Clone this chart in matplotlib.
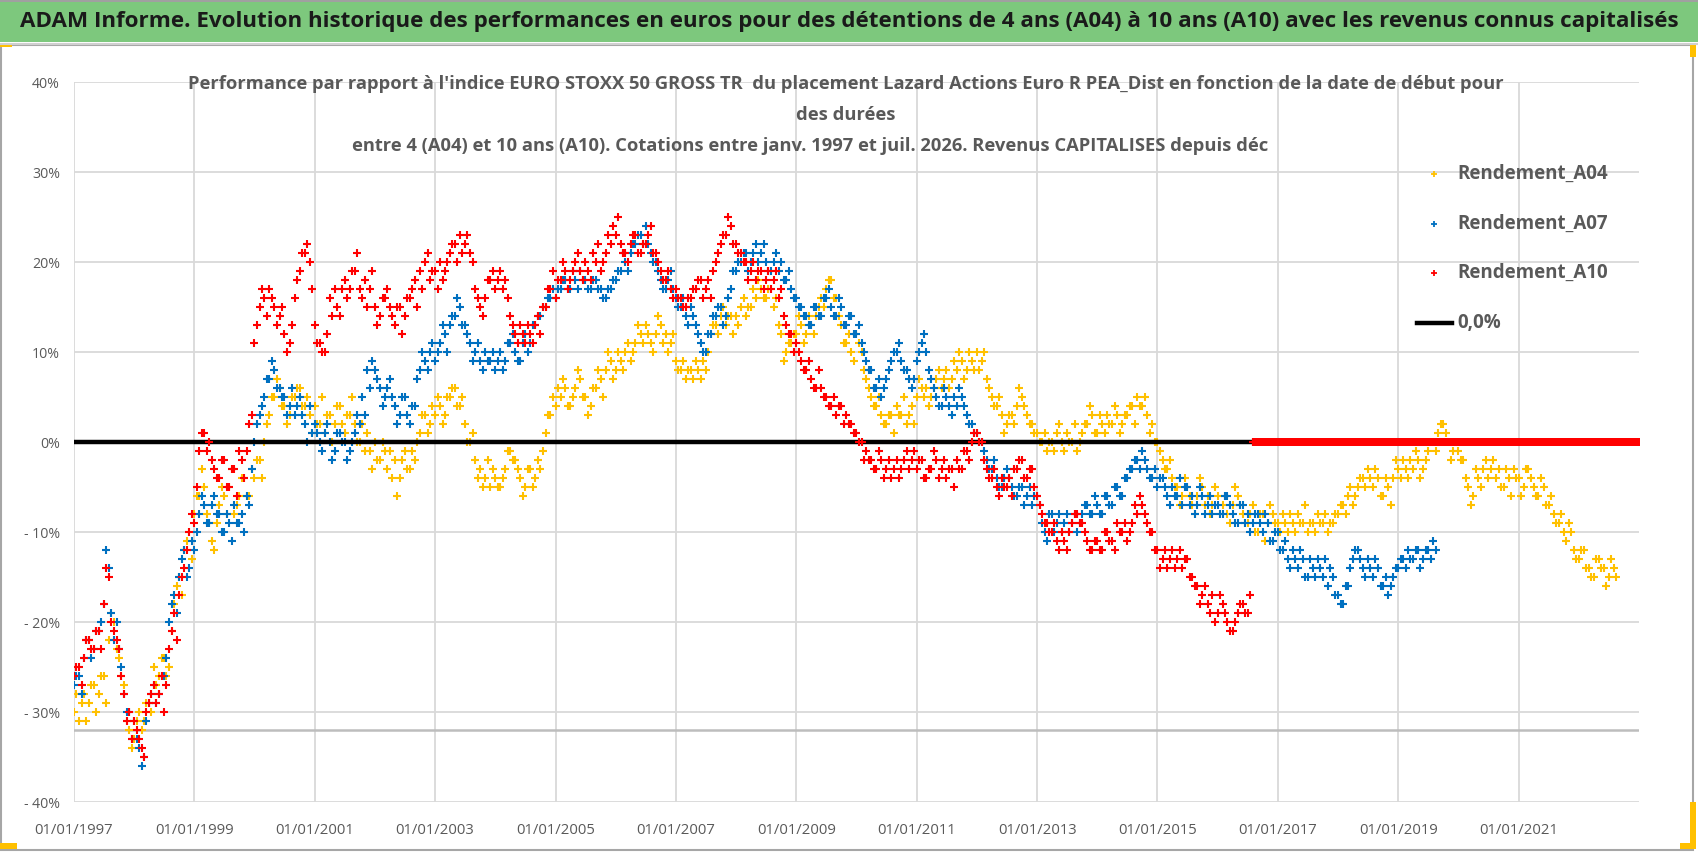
import matplotlib
matplotlib.use('Agg')
import matplotlib.pyplot as plt
import numpy as np
import pandas as pd
from matplotlib.lines import Line2D
from matplotlib.patches import Rectangle

# ---------------- data (percent) ----------------
# values at the start of each month
a04 = [
    -30, -31, -28, -29, -27, -28, -26, -22, -20, -24, -27, -32,   # 1997
    -33, -30, -31, -29, -25, -26, -24, -25, -18, -15, -12, -10,   # 1998
    -8, -6, -5, -9, -12, -7, -6, -5, -8, -6, -4, -6,              # 1999
    -4, -2, 0, 3, 5, 6, 4, 3, 5, 6, 4, 3,                         # 2000
    4, 2, 1, 3, 2, 4, 1, 3, 2, 0, -1, -1,                         # 2001
    0, -2, -1, -1, -2, -4, -1, -3, -2, 1, 3, 2,                   # 2002
    3, 4, 3, 5, 6, 4, 2, 0, -2, -3, -4, -5,                       # 2003
    -4, -5, -3, -1, -2, -4, -5, -3, -4, -3, 1, 3,                 # 2004
    4, 5, 6, 4, 6, 7, 5, 4, 6, 7, 8, 9,                           # 2005
    8, 9, 10, 9, 11, 12, 13, 11, 12, 13, 12, 11,                  # 2006
    9, 8, 7, 8, 9, 7, 8, 12, 13, 14, 13, 14,                      # 2007
    14, 15, 14, 15, 16, 17, 16, 17, 16, 12, 10, 11,               # 2008
    12, 13, 12, 13, 14, 16, 17, 18, 16, 13, 11, 10,               # 2009
    12, 10, 7, 5, 4, 3, 2, 3, 4, 3, 2, 4,                         # 2010
    5, 6, 6, 5, 7, 6, 8, 7, 8, 9, 8, 9,                           # 2011
    10, 9, 7, 5, 4, 3, 2, 3, 4, 5, 3, 2,                          # 2012
    1, 0, -1, 0, 1, 0, 1, 0, -1, 1, 2, 3,                         # 2013
    1, 2, 3, 2, 3, 2, 3, 4, 5, 4, 3, 2,                           # 2014
    0, -2, -3, -4, -5, -6, -5, -7, -6, -5, -6, -7,                # 2015
    -6, -7, -8, -7, -6, -8, -9, -7, -10, -8, -9, -8,              # 2016
    -9, -8, -10, -9, -8, -9, -10, -9, -8, -9, -10, -9,            # 2017
    -8, -7, -6, -7, -5, -4, -3, -5, -4, -6, -5, -4,               # 2018
    -3, -2, -4, -3, -2, -3, -1, 0, 1, 2, 0, -1,                   # 2019
    -1, -2, -5, -6, -4, -3, -4, -2, -3, -5, -4, -3,               # 2020
    -4, -5, -3, -5, -6, -5, -7, -8, -9, -10, -9, -12,             # 2021
    -13, -12, -14, -15, -13, -14, -15, -14,                       # 2022
]
# values in the middle of each month
a04_mid = [
    -28, -29, -31, -27, -30, -26, -29, -19, -23, -26, -31, -34,   # 1997
    -31, -32, -29, -30, -27, -24, -26, -21, -16, -17, -11, -13,   # 1998
    -6, -3, -8, -11, -9, -5, -8, -3, -7, -4, -6, -3,              # 1999
    -2, -4, 2, 5, 7, 4, 2, 5, 6, 4, 5, 1,                         # 2000
    2, 5, 3, 0, 4, 2, 3, 5, 0, 2, 1, -3,                          # 2001
    -2, 0, -3, -4, -6, -2, -3, -1, 0, 3, 1, 4,                    # 2002
    5, 2, 5, 6, 4, 5, 0, 1, -4, -5, -2, -3,                       # 2003
    -5, -4, -1, -2, -3, -6, -3, -5, -2, -1, 3, 5,                 # 2004
    6, 7, 4, 5, 8, 5, 3, 6, 8, 5, 10, 7,                          # 2005
    10, 8, 11, 10, 13, 11, 12, 10, 14, 11, 10, 12,                # 2006
    8, 9, 8, 7, 8, 9, 10, 13, 12, 15, 14, 12,                     # 2007
    13, 16, 15, 17, 18, 16, 17, 15, 13, 9, 11, 12,                # 2008
    14, 11, 14, 12, 15, 15, 18, 16, 14, 11, 12, 9,                # 2009
    11, 8, 6, 4, 5, 2, 3, 1, 3, 5, 3, 2,                          # 2010
    7, 5, 4, 6, 8, 7, 6, 9, 10, 7, 10, 8,                         # 2011
    8, 10, 6, 4, 5, 1, 3, 2, 6, 4, 2, 1,                          # 2012
    0, 1, 0, -1, 2, -1, 0, 2, 0, 2, 4, 1,                         # 2013
    3, 1, 2, 4, 1, 3, 4, 2, 4, 5, 1, 0,                           # 2014
    -1, -3, -2, -5, -7, -4, -6, -8, -4, -7, -8, -5,               # 2015
    -8, -6, -9, -5, -7, -9, -8, -10, -8, -11, -7, -9,             # 2016
    -10, -9, -8, -10, -9, -7, -9, -10, -9, -8, -9, -8,            # 2017
    -7, -8, -5, -6, -4, -5, -4, -3, -6, -4, -7, -2,               # 2018
    -4, -3, -2, -1, -4, -2, 0, -1, 2, 1, -2, 0,                   # 2019
    -2, -4, -7, -3, -5, -2, -3, -4, -5, -3, -6, -4,               # 2020
    -6, -3, -4, -6, -4, -7, -6, -9, -8, -11, -10, -13,            # 2021
    -12, -14, -15, -13, -14, -16, -13, -15,                       # 2022
]
a07 = [
    -27, -26, -24, -22, -23, -21, -18, -14, -22, -23, -28, -30,   # 1997
    -31, -34, -35, -29, -27, -28, -26, -20, -17, -15, -12, -14,   # 1998
    -12, -8, -7, -9, -6, -8, -10, -9, -7, -9, -10, -7,            # 1999
    0, 3, 5, 7, 8, 6, 5, 4, 3, 5, 2, 4,                           # 2000
    2, 0, 1, 0, -1, 1, 0, -1, 1, 2, 3, 6,                         # 2001
    8, 6, 5, 7, 4, 3, 5, 2, 4, 8, 9, 10,                          # 2002
    9, 11, 12, 13, 14, 15, 13, 11, 10, 9, 10, 9,                  # 2003
    8, 10, 9, 11, 10, 9, 12, 11, 13, 14, 15, 16,                  # 2004
    16, 17, 18, 17, 18, 19, 18, 17, 18, 17, 16, 17,               # 2005
    18, 19, 20, 21, 22, 23, 24, 21, 20, 18, 17, 19,               # 2006
    16, 15, 14, 15, 13, 11, 10, 12, 14, 15, 14, 17,               # 2007
    19, 20, 21, 20, 22, 21, 20, 19, 21, 20, 18, 17,               # 2008
    16, 15, 14, 13, 15, 14, 16, 15, 14, 15, 13, 14,               # 2009
    12, 11, 9, 8, 6, 5, 7, 9, 10, 9, 8, 6,                        # 2010
    9, 11, 10, 7, 5, 4, 5, 3, 4, 5, 3, 2,                         # 2011
    1, 0, -2, -3, -4, -5, -3, -5, -6, -5, -6, -7,                 # 2012
    -6, -9, -11, -8, -9, -10, -8, -9, -10, -8, -7, -8,            # 2013
    -7, -8, -6, -7, -5, -6, -4, -3, -2, -1, -3, -4,               # 2014
    -5, -4, -6, -5, -6, -7, -5, -6, -7, -6, -7, -8,               # 2015
    -7, -8, -6, -8, -9, -7, -8, -9, -8, -10, -9, -11,             # 2016
    -10, -12, -13, -12, -14, -13, -15, -14, -13, -15, -16, -15,   # 2017
    -17, -18, -16, -13, -12, -14, -13, -15, -14, -16, -17, -15,   # 2018
    -14, -13, -12, -13, -12, -13, -12, -11,                       # 2019
]
a07_mid = [
    -26, -28, -22, -24, -21, -20, -12, -19, -20, -25, -30, -33,   # 1997
    -33, -36, -31, -28, -29, -26, -24, -18, -19, -13, -15, -11,   # 1998
    -10, -6, -9, -7, -8, -10, -8, -11, -9, -8, -6, -3,            # 1999
    2, 4, 7, 9, 6, 5, 3, 6, 4, 3, 0, 1,                           # 2000
    1, -1, 2, -2, 1, 0, -2, 0, 3, 5, 8, 9,                        # 2001
    7, 4, 6, 5, 2, 5, 3, 4, 7, 10, 8, 11,                         # 2002
    10, 13, 10, 14, 16, 13, 12, 9, 11, 8, 9, 10,                  # 2003
    9, 8, 11, 12, 9, 11, 10, 13, 14, 15, 16, 17,                  # 2004
    17, 18, 17, 19, 17, 18, 17, 18, 17, 16, 17, 18,               # 2005
    19, 21, 19, 22, 23, 22, 22, 20, 19, 17, 18, 17,               # 2006
    15, 16, 13, 14, 12, 10, 12, 14, 15, 13, 16, 19,               # 2007
    20, 21, 19, 21, 20, 22, 19, 20, 19, 18, 19, 16,               # 2008
    15, 14, 13, 15, 14, 16, 17, 14, 16, 13, 14, 12,               # 2009
    13, 10, 8, 6, 7, 6, 8, 10, 11, 8, 7, 7,                       # 2010
    10, 12, 8, 6, 4, 6, 4, 5, 6, 4, 2, 1,                         # 2011
    0, -1, -3, -2, -5, -4, -4, -6, -5, -7, -5, -6,                # 2012
    -7, -10, -8, -10, -8, -9, -10, -8, -9, -7, -8, -6,            # 2013
    -8, -6, -7, -5, -6, -4, -3, -2, -3, -2, -4, -3,               # 2014
    -4, -5, -7, -6, -4, -5, -7, -8, -5, -8, -6, -7,               # 2015
    -8, -6, -7, -9, -7, -9, -10, -8, -9, -8, -11, -10,            # 2016
    -12, -11, -14, -13, -12, -15, -13, -15, -14, -13, -14, -17,   # 2017
    -18, -16, -14, -12, -13, -15, -14, -13, -16, -15, -16, -14,   # 2018
    -13, -14, -13, -12, -14, -12, -13, -12,                       # 2019
]
a10 = [
    -26, -25, -24, -22, -23, -21, -18, -15, -21, -23, -28, -30,   # 1997
    -31, -33, -35, -29, -27, -28, -30, -23, -19, -17, -14, -10,   # 1998
    -9, -1, 1, 0, -3, -4, -2, -5, -3, -1, -4, 2,                  # 1999
    11, 15, 16, 17, 15, 14, 12, 11, 16, 19, 21, 20,               # 2000
    13, 11, 10, 16, 17, 14, 18, 17, 19, 17, 18, 17,               # 2001
    15, 14, 16, 15, 13, 15, 14, 16, 18, 19, 20, 18,               # 2002
    19, 20, 19, 21, 22, 23, 22, 21, 17, 15, 16, 18,               # 2003
    17, 19, 18, 14, 12, 13, 11, 12, 13, 12, 15, 17,               # 2004
    16, 18, 19, 18, 20, 19, 20, 18, 20, 19, 21, 22,               # 2005
    23, 22, 21, 22, 23, 21, 22, 24, 21, 19, 18, 17,               # 2006
    17, 16, 15, 16, 17, 18, 17, 16, 20, 22, 23, 24,               # 2007
    22, 21, 20, 19, 18, 19, 18, 17, 19, 17, 13, 12,               # 2008
    11, 9, 8, 7, 6, 6, 5, 4, 3, 4, 3, 2,                          # 2009
    1, 0, -1, -2, -3, -2, -3, -4, -2, -3, -1, -2,                 # 2010
    -3, -2, -4, -3, -2, -3, -4, -3, -2, -3, -1, 0,                # 2011
    1, 0, -3, -4, -5, -4, -5, -6, -3, -2, -4, -3,                 # 2012
    -6, -8, -9, -10, -11, -10, -12, -9, -8, -9, -11, -12,         # 2013
    -11, -12, -10, -11, -9, -10, -11, -9, -8, -7, -9, -10,        # 2014
    -12, -13, -14, -12, -13, -14, -13, -15, -16, -17, -18, -17,   # 2015
    -19, -18, -20, -21, -19, -18, -19,                            # 2016
]
a10_mid = [
    -25, -27, -22, -23, -21, -23, -14, -20, -22, -26, -31, -33,   # 1997
    -32, -34, -30, -28, -29, -26, -27, -21, -22, -15, -12, -8,    # 1998
    -5, 1, -1, -2, -4, -2, -5, -3, -6, -2, -1, 3,                 # 1999
    13, 17, 14, 16, 13, 15, 10, 13, 18, 21, 22, 17,               # 2000
    11, 10, 12, 14, 15, 17, 16, 19, 21, 16, 15, 19,               # 2001
    13, 16, 17, 14, 15, 12, 16, 17, 15, 17, 21, 19,               # 2002
    17, 18, 20, 22, 20, 21, 23, 20, 16, 14, 18, 19,               # 2003
    18, 17, 16, 13, 11, 12, 13, 11, 14, 15, 17, 19,               # 2004
    18, 20, 17, 19, 21, 18, 19, 21, 22, 20, 23, 24,               # 2005
    25, 21, 20, 23, 21, 22, 23, 21, 20, 18, 19, 16,               # 2006
    16, 15, 16, 17, 18, 16, 18, 19, 21, 23, 25, 22,               # 2007
    21, 20, 18, 20, 19, 17, 19, 18, 16, 14, 12, 10,               # 2008
    10, 8, 9, 6, 8, 5, 4, 5, 4, 2, 2, 1,                          # 2009
    0, -2, -2, -3, -1, -4, -2, -3, -4, -2, -3, -1,                # 2010
    -2, -4, -3, -1, -4, -2, -3, -5, -3, -1, -2, 1,                # 2011
    0, -2, -4, -3, -6, -5, -4, -3, -2, -4, -3, -5,                # 2012
    -7, -9, -10, -9, -12, -11, -10, -8, -9, -10, -12, -11,        # 2013
    -12, -10, -11, -12, -10, -9, -10, -7, -6, -8, -10, -12,       # 2014
    -14, -12, -13, -14, -12, -13, -15, -16, -18, -16, -19, -20,   # 2015
    -17, -19, -21, -20, -18, -19, -17,                            # 2016
]
a10_zero_start, a10_zero_end = '2016-08-01', '2023-01-05'
zero_line_dates = ['1997-01-01', '2023-01-01']
zero_line_vals = [0, 0]
low_line_val = -32

series_names = ['Rendement_A04', 'Rendement_A07', 'Rendement_A10', '0,0%']
ytick_vals = [40, 30, 20, 10, 0, -10, -20, -30, -40]
ytick_labels = ['40%', '30%', '20%', '10%', '0%', '- 10%', '- 20%', '- 30%', '- 40%']
xtick_years = list(range(1997, 2022, 2))
xtick_labels = ['01/01/%d' % y for y in xtick_years]

title = ("ADAM Informe. Evolution historique des performances en euros pour des "
         "détentions de 4 ans (A04) à 10 ans (A10) avec les revenus connus capitalisés")
sub1 = ("Performance par rapport à l'indice EURO STOXX 50 GROSS TR  du placement Lazard "
        "Actions Euro R PEA_Dist en fonction de la date de début pour")
sub2 = "des durées"
sub3 = ("entre 4 (A04) et 10 ans (A10). Cotations entre janv. 1997 et juil. 2026. "
        "Revenus CAPITALISES depuis déc")

# ---------------- styling ----------------
W, H = 1698, 856
plt.rcParams['font.family'] = ['Liberation Sans Narrow', 'Open Sans', 'DejaVu Sans']
C04, C07, C10 = '#FFC000', '#0070C0', '#FF0000'
GREY_TXT = '#595959'

fig = plt.figure(figsize=(W / 100, H / 100), dpi=100)
fig.patch.set_facecolor('white')
renderer = fig.canvas.get_renderer()


def fx(px):
    return px / W


def fy(py):
    return 1 - py / H


def fit(text, width, weight='normal', size0=12):
    t = fig.text(0, 0, text, fontsize=size0, weight=weight)
    w = t.get_window_extent(renderer).width
    t.remove()
    return size0 * width / w


# title bar and frame
fig.add_artist(Rectangle((0, fy(42)), 1, 40 / H, transform=fig.transFigure,
                         facecolor='#7DC87D', edgecolor='none', zorder=0))
fig.add_artist(Rectangle((0, fy(2)), 1, 2 / H, transform=fig.transFigure,
                         facecolor='#A0A0A0', edgecolor='none', zorder=0))
fig.add_artist(Line2D([0, 1], [fy(44), fy(44)], transform=fig.transFigure,
                      color='#D0D0D0', lw=1.5))
fig.add_artist(Rectangle((fx(1), fy(850)), fx(1692), 805 / H, transform=fig.transFigure,
                         fill=False, edgecolor='#A6A6A6', lw=1.5, zorder=0))
# selection handle accents
for (x0, y0, w, h) in [(0, 843, 17, 6), (1690, 802, 6, 47), (1680, 843, 16, 6),
                       (0, 43, 12, 4), (1690, 43, 6, 14)]:
    fig.add_artist(Rectangle((fx(x0), fy(y0 + h)), w / W, h / H, transform=fig.transFigure,
                             facecolor='#FFC000', edgecolor='none', zorder=1))

fig.text(fx(849), fy(22), title, ha='center', va='center', color='#1a1a1a',
         weight='bold', fontsize=fit(title, 1655, 'bold'))
ssz = fit(sub1, 1313, 'bold')
fig.text(fx(846), fy(84), sub1, ha='center', va='center', color=GREY_TXT, weight='bold', fontsize=ssz)
fig.text(fx(846), fy(115), sub2, ha='center', va='center', color=GREY_TXT, weight='bold', fontsize=ssz)
fig.text(fx(810), fy(146), sub3, ha='center', va='center', color=GREY_TXT, weight='bold', fontsize=ssz)

# ---------------- axes ----------------
ax = fig.add_axes([fx(74), fy(802), fx(1639 - 74), (802 - 82) / H])
ax.set_facecolor('none')


def month_dates(n, offset_days=0):
    return pd.date_range('1997-01-01', periods=n, freq='MS') + pd.Timedelta(days=offset_days)


dz = pd.date_range(a10_zero_start, a10_zero_end, freq='4D')
a10_zero = [0.0] * len(dz)

mk = dict(ls='none', marker='+', ms=5.6, mew=1.5)
for vals, mids, col, z in [(a04, a04_mid, C04, 3), (a07, a07_mid, C07, 4)]:
    ax.plot(month_dates(len(vals)), np.array(vals) / 100, color=col, zorder=z, **mk)
    ax.plot(month_dates(len(mids), 15), np.array(mids) / 100, color=col, zorder=z, **mk)
ax.plot(pd.to_datetime(zero_line_dates), np.array(zero_line_vals) / 100,
        color='black', lw=3.2, zorder=5, solid_capstyle='butt')
ax.plot(month_dates(len(a10)), np.array(a10) / 100, color=C10, zorder=6, **mk)
ax.plot(month_dates(len(a10_mid), 15), np.array(a10_mid) / 100, color=C10, zorder=6, **mk)
ax.plot(dz, a10_zero, color=C10, zorder=6, **mk)
ax.axhline(low_line_val / 100, color='#BDBDBD', lw=1.8, zorder=1)

ax.set_xlim(pd.Timestamp('1997-01-01'), pd.Timestamp('2023-01-01'))
ax.set_ylim(-0.40, 0.40)
ax.set_yticks(np.array(ytick_vals) / 100)
ax.set_yticklabels(ytick_labels)
ax.set_xticks([pd.Timestamp('%d-01-01' % y) for y in xtick_years])
ax.set_xticklabels(xtick_labels)
ax.grid(True, color='#D9D9D9', lw=1.3, zorder=0)
ax.set_axisbelow(True)
for s in ax.spines.values():
    s.set_visible(False)
ysz = fit('- 30%', 36)
xsz = fit('01/01/1997', 79)
ax.tick_params(axis='y', length=0, pad=10, labelsize=ysz, labelcolor=GREY_TXT)
ax.tick_params(axis='x', length=0, pad=15, labelsize=xsz, labelcolor=GREY_TXT)

# ---------------- legend ----------------
lsz = fit('Rendement_A04', 150, 'bold')
rows = [174, 224, 273, 323]
for name, col, yy in zip(series_names[:3], [C04, C07, C10], rows[:3]):
    fig.add_artist(Line2D([fx(1434)], [fy(yy)], transform=fig.transFigure, ls='none',
                          marker='+', ms=5, mew=1.3, color=col))
    fig.text(fx(1457), fy(yy), name, ha='left', va='center', color=GREY_TXT,
             weight='bold', fontsize=lsz)
fig.add_artist(Line2D([fx(1417), fx(1452)], [fy(rows[3]), fy(rows[3])],
                      transform=fig.transFigure, color='black', lw=3.2))
fig.text(fx(1457), fy(rows[3]), series_names[3], ha='left', va='center', color=GREY_TXT,
         weight='bold', fontsize=lsz)

fig.savefig('out.png', dpi=100)
